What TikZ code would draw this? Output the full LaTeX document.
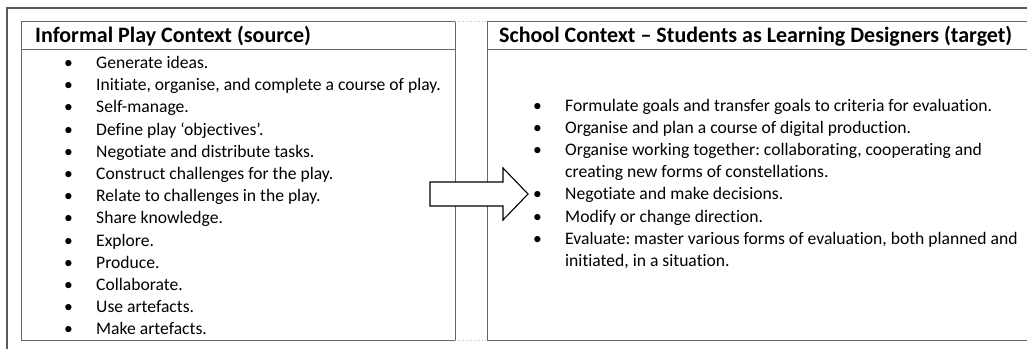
\documentclass[tikz,border=0pt]{standalone}
\usepackage{fontspec}
\setmainfont{Carlito}[Ligatures=NoCommon]
\frenchspacing
\begin{document}
\begin{tikzpicture}[x=1pt,y=-1pt,
  frameline/.style={draw=black!65,line width=1.6pt},
  boxline/.style={draw=black!60,line width=0.9pt},
  gapline/.style={draw=black!25,line width=0.7pt,dotted},
  head/.style={anchor=base west,font=\fontsize{22}{24}\selectfont\bfseries,inner sep=0pt},
  item/.style={anchor=base west,font=\fontsize{17.6}{19}\selectfont,inner sep=0pt},
  bul/.style={anchor=base west,font=\fontsize{17.6}{19}\selectfont,inner sep=0pt},
  blockarrow/.style={draw=black,line width=1.1pt,fill=white,line join=miter}]
\useasboundingbox (0,0) rectangle (1027,349);
% outer frame
\draw[frameline] (7,349) -- (7,8) -- (1027,8);
% boxes
\draw[boxline] (21,21) rectangle (455,340);
\draw[boxline] (21,49) -- (455,49);
\draw[boxline] (1040,340) -- (487,340) -- (487,21) -- (1040,21);
\draw[boxline] (487,49) -- (1040,49);
\draw[gapline] (455,21) -- (487,21);
\draw[gapline] (455,340) -- (487,340);
% headers
\node[head] (hl) at (35,42) {Informal Play Context (source)};
\node[head] (hr) at (499,42) {School Context – Students as Learning Designers (target)};
% left items
\foreach \t [count=\i from 0] in {Generate ideas.,
  {Initiate, organise, and complete a course of play.},
  Self-manage., Define play ‘objectives’., Negotiate and distribute tasks.,
  Construct challenges for the play., Relate to challenges in the play.,
  Share knowledge., Explore., Produce., Collaborate., Use artefacts., Make artefacts.}{
  \node[bul] (lb\i) at (64,68.5+22.2*\i) {•};
  \node[item] (lt\i) at (96,68.5+22.2*\i) {\t};
}
% right items
\node[bul] (rb0) at (533,111) {•};
\node[item] (rt0) at (565,111) {Formulate goals and transfer goals to criteria for evaluation.};
\node[bul] (rb1) at (533,133.2) {•};
\node[item] (rt1) at (565,133.2) {Organise and plan a course of digital production.};
\node[bul] (rb2) at (533,155.4) {•};
\node[item] (rt2) at (565,155.4) {Organise working together: collaborating, cooperating and};
\node[item] (rt2b) at (565,177.6) {creating new forms of constellations.};
\node[bul] (rb3) at (533,199.8) {•};
\node[item] (rt3) at (565,199.8) {Negotiate and make decisions.};
\node[bul] (rb4) at (533,222) {•};
\node[item] (rt4) at (565,222) {Modify or change direction.};
\node[bul] (rb5) at (533,244.2) {•};
\node[item] (rt5) at (565,244.2) {Evaluate: master various forms of evaluation, both planned and};
\node[item] (rt5b) at (565,266.4) {initiated, in a situation.};
% block arrow
\draw[blockarrow] (430,182) -- (503,182) -- (503,168) -- (528,194) -- (503,220) -- (503,206) -- (430,206) -- cycle;
\end{tikzpicture}
\end{document}
